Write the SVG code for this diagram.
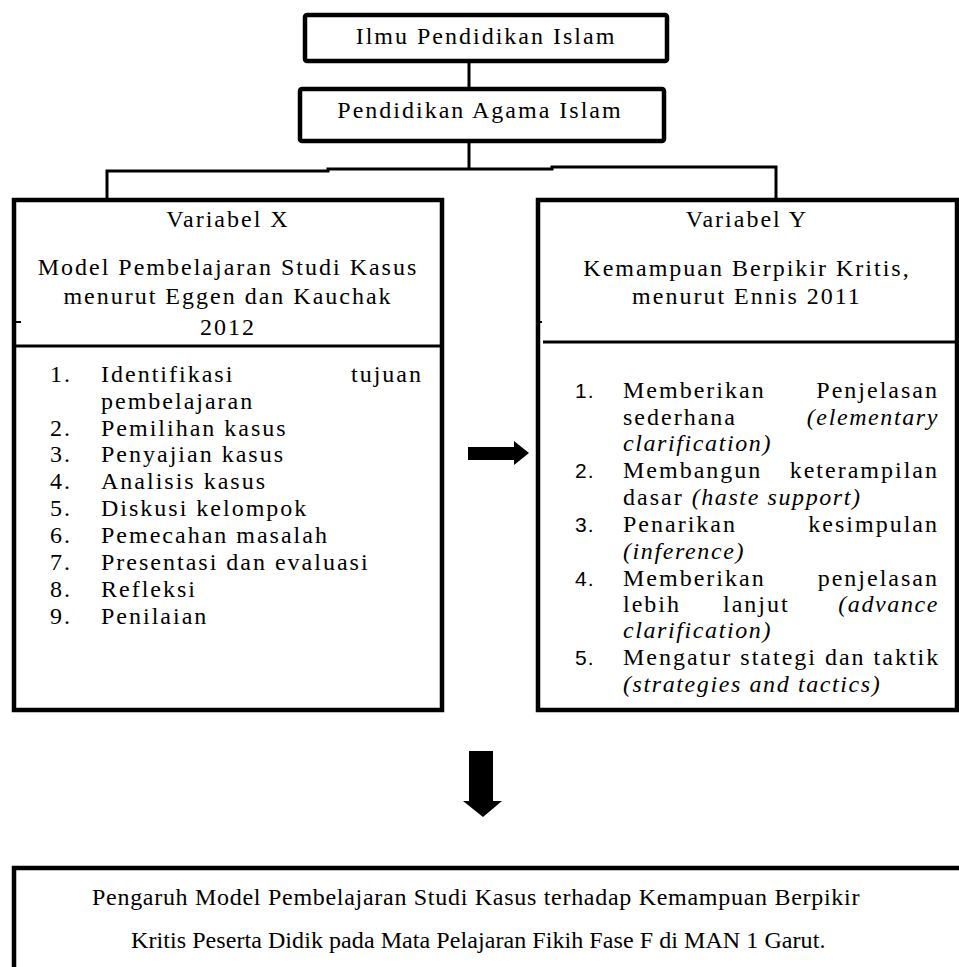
<svg xmlns="http://www.w3.org/2000/svg" width="959" height="967" viewBox="0 0 959 967">
<style>
.box{fill:#fff;stroke:#000;stroke-width:4.5}
.ln{stroke:#000;stroke-width:3;fill:none}
text{font-family:"Liberation Serif","Times New Roman",serif;font-size:24px;fill:#000;letter-spacing:2px}
.c{text-anchor:middle}
.e{text-anchor:end}
.i{font-style:italic;letter-spacing:1.6px}
.n{font-family:"Liberation Sans",Arial,sans-serif;font-size:21px;letter-spacing:1px}
.b{letter-spacing:0.6px}
</style>
<rect width="959" height="967" fill="#fff"/>
<g id="connectors">
<line class="ln" x1="469" y1="61" x2="469" y2="89"/>
<line class="ln" x1="469" y1="136" x2="469" y2="169"/>
<polyline class="ln" points="107,200 107,171 328,171 328,169 552,169 552,167 776,167 776,200"/>
<polygon id="arrow-right" points="468,447 514,447 514,441 529,453 514,465 514,460 468,460" fill="#000"/>
<polygon id="arrow-down" points="469,751 493,751 493,801 502,801 483,817 463,801 469,801" fill="#000"/>
</g>
<g id="node-ilmu">
<rect class="box" x="305" y="15" width="362" height="46" rx="2"/>
<text class="c" x="486" y="44">Ilmu Pendidikan Islam</text>
</g>
<g id="node-pai">
<rect class="box" x="300" y="89" width="364" height="52" rx="2"/>
<text class="c" x="480" y="118">Pendidikan Agama Islam</text>
</g>
<g id="node-x">
<rect class="box" x="14" y="200" width="428" height="510"/>
<line class="ln" x1="14" y1="346" x2="442" y2="346"/>
<line x1="16" y1="322" x2="21" y2="322" stroke="#000" stroke-width="2"/>
<text class="c" x="228" y="227">Variabel X</text>
<text class="c" x="228" y="275">Model Pembelajaran Studi Kasus</text>
<text class="c" x="228" y="304">menurut Eggen dan Kauchak</text>
<text class="c" x="228" y="335">2012</text>
<text x="50" y="382">1.</text><text x="101" y="382">Identifikasi</text><text class="e" x="423" y="382">tujuan</text>
<text x="101" y="409">pembelajaran</text>
<text x="50" y="436">2.</text><text x="101" y="436">Pemilihan kasus</text>
<text x="50" y="462">3.</text><text x="101" y="462">Penyajian kasus</text>
<text x="50" y="489">4.</text><text x="101" y="489">Analisis kasus</text>
<text x="50" y="516">5.</text><text x="101" y="516">Diskusi kelompok</text>
<text x="50" y="543">6.</text><text x="101" y="543">Pemecahan masalah</text>
<text x="50" y="570">7.</text><text x="101" y="570">Presentasi dan evaluasi</text>
<text x="50" y="597">8.</text><text x="101" y="597">Refleksi</text>
<text x="50" y="624">9.</text><text x="101" y="624">Penilaian</text>
</g>
<g id="node-y">
<rect class="box" x="538" y="200" width="419" height="510"/>
<line class="ln" x1="543" y1="342" x2="957" y2="342"/>
<line x1="538" y1="322" x2="542" y2="322" stroke="#000" stroke-width="2"/>
<text class="c" x="747" y="227">Variabel Y</text>
<text class="c" x="747" y="276">Kemampuan Berpikir Kritis,</text>
<text class="c" x="747" y="304">menurut Ennis 2011</text>
<text class="n" x="575" y="398">1.</text><text x="623" y="398">Memberikan</text><text class="e" x="939" y="398">Penjelasan</text>
<text x="623" y="425">sederhana</text><text class="e i" x="939" y="425">(elementary</text>
<text class="i" x="623" y="451">clarification)</text>
<text class="n" x="575" y="478">2.</text><text x="623" y="478">Membangun</text><text class="e" x="939" y="478">keterampilan</text>
<text x="623" y="505">dasar <tspan class="i">(haste support)</tspan></text>
<text class="n" x="575" y="532">3.</text><text x="623" y="532">Penarikan</text><text class="e" x="939" y="532">kesimpulan</text>
<text class="i" x="623" y="559">(inference)</text>
<text class="n" x="575" y="586">4.</text><text x="623" y="586">Memberikan</text><text class="e" x="939" y="586">penjelasan</text>
<text x="623" y="612">lebih</text><text x="723" y="612">lanjut</text><text class="e i" x="939" y="612">(advance</text>
<text class="i" x="623" y="638">clarification)</text>
<text class="n" x="575" y="665">5.</text><text x="623" y="665">Mengatur stategi dan taktik</text>
<text class="i" x="623" y="692">(strategies and tactics)</text>
</g>
<g id="node-result">
<rect class="box" x="14" y="868" width="960" height="200"/>
<text class="b" x="92" y="905" textLength="768">Pengaruh Model Pembelajaran Studi Kasus terhadap Kemampuan Berpikir</text>
<text class="b" x="131" y="948" textLength="695">Kritis Peserta Didik pada Mata Pelajaran Fikih Fase F  di MAN 1 Garut.</text>
</g>
</svg>
